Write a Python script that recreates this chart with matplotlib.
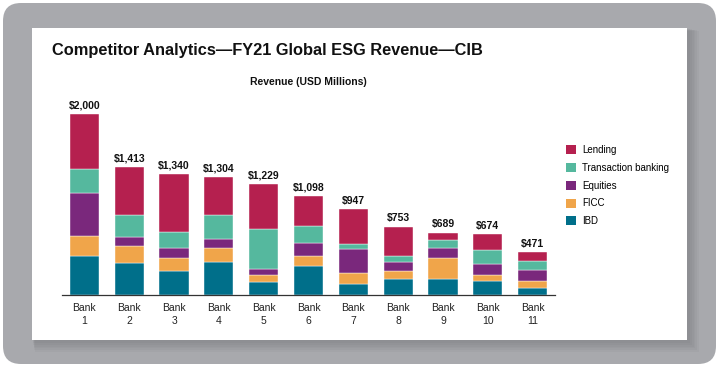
import matplotlib
matplotlib.use("Agg")
import matplotlib.pyplot as plt
from matplotlib.patches import FancyBboxPatch, Rectangle, Patch
import numpy as np

plt.rcParams['font.family'] = ['Liberation Sans', 'DejaVu Sans']

banks = ["Bank\n1", "Bank\n2", "Bank\n3", "Bank\n4", "Bank\n5", "Bank\n6",
         "Bank\n7", "Bank\n8", "Bank\n9", "Bank\n10", "Bank\n11"]
ibd = [434, 357, 262, 366, 141, 322, 122, 173, 178, 150, 80]
ficc = [221, 188, 147, 155, 77, 111, 122, 89, 233, 74, 80]
equities = [469, 100, 111, 103, 66, 141, 265, 100, 109, 114, 114]
transaction = [269, 240, 181, 259, 446, 192, 55, 74, 84, 162, 102]
lending = [607, 528, 639, 421, 499, 332, 383, 317, 85, 174, 95]
totals = [2000, 1413, 1340, 1304, 1229, 1098, 947, 753, 689, 674, 471]

series = [("IBD", ibd, "#006f8a"),
          ("FICC", ficc, "#f0a54a"),
          ("Equities", equities, "#7a287c"),
          ("Transaction banking", transaction, "#55b89e"),
          ("Lending", lending, "#b5204f")]

W, H = 720, 368
fig = plt.figure(figsize=(W / 100, H / 100), dpi=100, facecolor="white")

def fx(px):
    return px / W

def fy(py):
    return 1 - py / H

# background frame
bg = fig.add_axes([0, 0, 1, 1])
bg.set_xlim(0, W)
bg.set_ylim(H, 0)
bg.axis("off")
bg.add_patch(FancyBboxPatch((3 + 18, 3 + 18), 713 - 36, 361 - 36,
                            boxstyle="round,pad=18", fc="#a8a9ad", ec="none"))
# shadow around panel
for i in range(6):
    off = 2 + i * 1.5
    bg.add_patch(Rectangle((32 + off * 0.3, 28 + off * 0.3), 655 + off, 312 + off,
                           fc="#5a5b5f", ec="none", alpha=0.06))
bg.add_patch(Rectangle((32, 28), 655, 312, fc="white", ec="none"))

bg.text(52, 50, "Competitor Analytics\u2014FY21 Global ESG Revenue\u2014CIB",
        fontsize=11.8, fontweight="bold", ha="left", va="center", color="#111111")
bg.text(308, 82, "Revenue (USD Millions)", fontsize=7.5, fontweight="bold",
        ha="center", va="center", color="#111111")

ax = fig.add_axes([fx(62), fy(295), fx(555) - fx(62), fy(95) - fy(295)])
ax.set_facecolor("none")
x = np.arange(len(banks))
bottom = np.zeros(len(banks))
for name, vals, col in series:
    ax.bar(x, vals, bottom=bottom, width=0.65, color=col, edgecolor="#ffffff",
           linewidth=0.3, label=name)
    bottom += np.array(vals)

for i, t in enumerate(totals):
    ax.annotate(f"${t:,}", (x[i], bottom[i]), xytext=(0, 2.5), textcoords="offset points",
                ha="center", va="bottom", fontsize=7.5, fontweight="bold", color="#111111")

ax.set_xlim(-0.5, 10.5)
ax.set_ylim(0, 2000 * 200 / 181)
ax.set_xticks(x)
ax.set_xticklabels(banks, fontsize=7.5, color="#222222", linespacing=1.35)
ax.tick_params(axis="x", length=0, pad=6)
ax.set_yticks([])
for s in ["top", "right", "left"]:
    ax.spines[s].set_visible(False)
ax.spines["bottom"].set_color("#333333")
ax.spines["bottom"].set_linewidth(0.9)

handles = [Patch(facecolor=c, edgecolor="none", label=n) for n, v, c in series[::-1]]
fig.legend(handles=handles, loc="upper left", bbox_to_anchor=(fx(566), fy(145)),
           frameon=False, fontsize=7, handlelength=1.05, handleheight=1.05,
           handletextpad=0.6, labelspacing=0.8, borderpad=0, borderaxespad=0)

fig.savefig("out.png", dpi=100, facecolor="white")
